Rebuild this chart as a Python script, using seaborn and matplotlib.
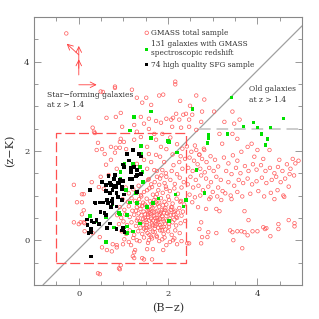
import matplotlib
matplotlib.use("Agg")
import matplotlib.pyplot as plt
import numpy as np
import seaborn as sns

# GMASS total sample, (B-z, z-K) pairs grouped by area of the diagram
red_upper = [(-0.28, 4.63), (0.49, 3.33), (0.54, 3.32), (0.81, 3.41), (1.19, 3.37), (1.30, 3.19),
             (1.42, 3.08), (1.51, 3.19), (1.62, 3.03), (1.80, 3.24), (1.89, 3.26), (0.00, 2.74),
             (0.62, 2.74), (0.31, 2.52), (0.36, 2.40), (0.94, 2.85), (0.83, 2.76), (1.39, 2.76),
             (1.57, 2.72), (1.73, 2.67), (1.84, 2.63), (1.96, 2.72), (1.46, 2.61), (1.24, 2.58),
             (0.97, 2.54), (1.57, 2.49), (1.30, 2.43), (0.34, 2.43), (1.69, 2.38), (1.87, 2.38),
             (2.16, 3.55), (2.16, 3.49), (2.27, 3.12), (2.63, 3.24), (2.81, 3.15), (2.49, 3.01),
             (2.11, 2.74), (2.34, 2.81), (2.18, 2.83), (2.40, 2.83), (2.54, 2.81), (2.76, 2.88),
             (3.03, 2.88), (2.07, 2.70), (2.25, 2.70), (2.47, 2.70), (2.74, 2.65), (3.26, 2.65),
             (3.44, 2.88), (3.48, 2.61), (3.60, 2.70), (2.09, 2.54), (2.29, 2.52), (2.47, 2.54),
             (2.63, 2.47), (0.81, 3.44)]
red_box = [(1.39, 2.31), (1.73, 2.25), (0.94, 2.27), (1.01, 2.20), (1.24, 2.25), (0.72, 2.09),
           (0.83, 2.07), (0.52, 2.04), (0.40, 2.02), (1.06, 2.04), (1.53, 2.09), (1.84, 2.09),
           (1.96, 2.04), (1.57, 1.93), (1.73, 1.91), (1.82, 1.87), (1.46, 1.80), (1.62, 1.75),
           (1.30, 1.71), (1.91, 1.75), (0.72, 1.80), (0.61, 1.69), (0.85, 1.60), (1.53, 1.60),
           (1.69, 1.57), (1.87, 1.57), (1.96, 1.42), (1.75, 1.42), (1.57, 1.37), (0.67, 1.46),
           (0.49, 1.42), (0.29, 1.30), (0.45, 1.19), (0.56, 1.15), (0.11, 1.03), (-0.11, 1.24),
           (1.64, 1.19), (1.80, 1.24), (1.96, 1.15), (1.53, 1.12), (1.39, 1.01), (1.75, 1.03),
           (0.43, 2.18), (0.58, 1.93), (0.81, 1.96), (0.92, 2.07), (0.92, 2.20), (2.05, 2.30),
           (2.20, 2.15), (2.32, 2.05), (2.10, 1.92), (2.28, 1.88), (-0.04, 0.85), (0.07, 1.03),
           (0.04, 0.40), (0.13, 0.38), (0.07, 0.58), (0.13, 0.20), (0.31, 0.16), (0.47, 0.07),
           (-0.11, 0.40), (0.07, 0.85), (0.11, 0.67), (0.00, 0.36), (0.11, 0.40), (0.76, -0.09),
           (0.52, -0.16), (0.63, -0.22), (0.99, -0.09), (0.85, -0.11), (1.17, -0.11), (1.30, 0.00),
           (1.57, 0.00), (1.75, 0.07), (1.87, 0.02), (1.96, -0.11), (1.66, -0.20), (1.89, -0.22),
           (1.24, -0.27), (1.26, -0.22), (1.53, -0.20), (0.74, -0.25), (0.85, -0.16)]
red_below = [(0.47, -0.76), (0.43, -0.74), (0.90, -0.63), (0.94, -0.56), (0.92, -0.65),
             (1.21, -0.36), (1.42, -0.40), (1.64, -0.43), (1.46, -0.43), (1.24, -0.40)]
red_cluster = [(1.05, 1.18), (1.12, 1.05), (1.22, 1.14), (1.34, 1.22), (1.46, 1.08), (1.58, 1.16),
               (1.66, 1.02), (1.78, 1.12), (1.88, 1.06), (1.95, 1.20), (2.04, 1.10), (2.14, 1.16),
               (2.22, 1.04), (2.30, 1.18), (1.40, 0.98), (1.72, 0.96), (2.00, 0.98),
               (0.98, 0.92), (1.10, 0.86), (1.18, 0.94), (1.26, 0.88), (1.35, 0.92), (1.44, 0.84),
               (1.52, 0.93), (1.60, 0.87), (1.69, 0.90), (1.76, 0.82), (1.84, 0.94), (1.92, 0.86),
               (2.02, 0.90), (2.10, 0.82), (2.19, 0.93), (2.27, 0.86), (2.36, 0.80), (1.48, 0.80),
               (1.63, 0.81), (1.96, 0.80),
               (0.92, 0.74), (1.02, 0.68), (1.12, 0.76), (1.20, 0.66), (1.30, 0.74), (1.38, 0.70),
               (1.45, 0.64), (1.52, 0.76), (1.58, 0.68), (1.65, 0.72), (1.72, 0.64), (1.80, 0.75),
               (1.86, 0.67), (1.94, 0.72), (2.01, 0.64), (2.09, 0.74), (2.16, 0.66), (2.25, 0.72),
               (2.33, 0.64), (1.56, 0.62), (1.70, 0.78), (1.90, 0.62), (1.42, 0.77),
               (0.86, 0.56), (0.95, 0.50), (1.04, 0.58), (1.14, 0.52), (1.24, 0.57), (1.32, 0.49),
               (1.40, 0.56), (1.48, 0.50), (1.55, 0.57), (1.62, 0.48), (1.68, 0.55), (1.75, 0.50),
               (1.82, 0.58), (1.88, 0.47), (1.96, 0.54), (2.04, 0.48), (2.12, 0.57), (2.20, 0.50),
               (2.30, 0.55), (1.60, 0.60), (1.78, 0.45), (1.50, 0.45),
               (0.90, 0.36), (1.00, 0.42), (1.08, 0.34), (1.18, 0.40), (1.28, 0.32), (1.36, 0.42),
               (1.44, 0.35), (1.52, 0.40), (1.58, 0.30), (1.64, 0.38), (1.71, 0.32), (1.78, 0.40),
               (1.85, 0.30), (1.93, 0.37), (2.02, 0.30), (2.10, 0.40), (2.18, 0.33), (2.28, 0.38),
               (1.66, 0.44), (1.50, 0.28),
               (0.96, 0.20), (1.06, 0.14), (1.14, 0.22), (1.24, 0.12), (1.33, 0.20), (1.42, 0.14),
               (1.50, 0.22), (1.58, 0.12), (1.66, 0.19), (1.74, 0.10), (1.82, 0.22), (1.90, 0.14),
               (2.00, 0.20), (2.08, 0.12), (2.16, 0.22), (2.26, 0.16), (1.46, 0.26), (1.70, 0.26),
               (1.02, 0.02), (1.12, -0.04), (1.22, 0.05), (1.36, -0.02), (1.46, 0.06), (1.55, -0.06),
               (1.64, 0.04), (1.80, -0.02), (1.92, 0.06), (2.04, -0.04), (2.14, 0.04), (2.30, -0.02),
               (1.70, 1.30), (1.82, 1.38), (1.92, 1.28), (2.05, 1.35), (2.15, 1.26), (2.26, 1.40),
               (2.35, 1.30), (1.95, 1.50), (2.08, 1.55), (2.20, 1.48), (2.32, 1.60), (2.12, 1.68),
               (2.25, 1.75), (2.38, 1.82), (1.85, 1.45), (1.62, 1.25), (1.55, 1.35), (1.75, 1.55)]
red_core = [(1.55, 0.52), (1.63, 0.58), (1.71, 0.50), (1.79, 0.56), (1.87, 0.53), (1.58, 0.44),
            (1.74, 0.42), (1.82, 0.48), (1.90, 0.42), (1.68, 0.62), (1.76, 0.66), (1.84, 0.62),
            (1.92, 0.68), (1.98, 0.60), (1.62, 0.70), (1.54, 0.66), (1.48, 0.58), (1.44, 0.48),
            (1.66, 0.34), (1.74, 0.36), (1.82, 0.34), (1.90, 0.30), (1.98, 0.44), (2.06, 0.56),
            (2.06, 0.68), (1.60, 0.26), (1.78, 0.28), (1.86, 0.22), (1.94, 0.24), (2.02, 0.36),
            (1.52, 0.34), (1.40, 0.40), (1.34, 0.60), (1.28, 0.66), (1.36, 0.78), (1.88, 0.78),
            (1.80, 0.84), (1.72, 0.86), (2.14, 0.46), (2.22, 0.62), (1.70, 0.18), (1.62, 0.08),
            (1.54, 0.16), (1.38, 0.28), (1.30, 0.44)]
red_right = [(2.42, 2.10), (2.52, 1.98), (2.60, 2.12), (2.70, 1.92), (2.80, 2.05), (2.48, 1.85),
             (2.58, 1.78), (2.66, 1.70), (2.76, 1.82), (2.86, 1.75), (2.95, 1.88), (3.05, 1.80),
             (2.45, 1.62), (2.55, 1.55), (2.72, 1.60), (2.82, 1.52), (2.92, 1.62), (3.02, 1.55),
             (3.12, 1.65), (2.50, 1.42), (2.62, 1.35), (2.74, 1.45), (2.85, 1.38), (2.96, 1.30),
             (3.08, 1.42), (3.18, 1.35), (2.44, 1.25), (2.56, 1.18), (2.68, 1.22), (2.78, 1.12),
             (2.90, 1.20), (3.00, 1.08), (3.12, 1.18), (3.22, 1.10), (2.48, 1.02), (2.60, 0.96),
             (2.72, 1.00), (2.95, 0.96), (3.10, 0.98),
             (3.25, 1.85), (3.35, 1.72), (3.45, 1.90), (3.55, 1.78), (3.30, 1.55), (3.42, 1.48),
             (3.52, 1.62), (3.62, 1.50), (3.72, 1.66), (3.80, 1.55), (3.90, 1.70), (3.98, 1.58),
             (4.08, 1.68), (4.18, 1.55), (4.28, 1.62), (4.38, 1.50), (4.46, 1.64), (4.56, 1.55),
             (4.66, 1.70), (4.74, 1.60), (4.85, 1.72), (4.92, 1.78), (3.35, 1.30), (3.48, 1.22),
             (3.58, 1.35), (3.68, 1.28), (3.78, 1.38), (3.88, 1.25), (3.98, 1.32), (4.10, 1.40),
             (4.20, 1.28), (4.32, 1.35), (4.42, 1.42), (4.52, 1.30), (4.62, 1.38), (4.72, 1.48),
             (4.82, 1.45), (3.28, 1.05), (3.40, 1.00), (3.55, 1.08), (3.66, 0.98), (3.84, 1.04),
             (4.02, 1.10), (4.15, 0.98), (4.30, 1.06), (4.45, 1.12), (4.58, 1.00), (4.70, 1.20),
             (3.15, 2.38), (3.44, 2.38), (3.55, 2.27), (3.21, 2.16), (3.87, 2.16), (3.78, 2.09),
             (3.64, 1.98), (4.00, 2.02), (4.27, 2.02), (3.93, 1.87), (4.13, 1.82), (4.49, 1.80),
             (4.79, 1.82), (2.81, 2.02), (2.63, 2.02), (2.70, 1.91),
             (3.71, 0.65), (3.80, 0.45), (2.74, 0.40), (2.70, 0.25), (2.90, 0.18), (3.08, 0.16),
             (2.88, 0.07), (2.76, 0.07), (2.74, -0.07), (3.39, 0.22), (3.44, 0.18), (3.55, 0.20),
             (3.64, 0.20), (3.71, 0.18), (3.78, 0.11), (3.89, 0.20), (3.46, 0.00), (3.66, -0.18),
             (4.00, 0.20), (4.13, 0.29), (4.17, 0.25), (4.20, 0.27), (4.29, 0.09), (4.47, 0.36),
             (4.47, 0.25), (4.70, 0.45), (4.83, 0.38), (4.83, 0.31), (2.47, -0.07), (2.43, -0.07),
             (2.11, 0.00), (2.20, -0.09), (2.38, 0.43), (2.18, 0.52), (2.13, 0.63), (2.07, 0.74),
             (2.29, 0.88), (2.54, 0.85), (2.67, 0.74), (2.85, 0.70), (3.08, 0.70), (3.15, 0.65),
             (3.42, 0.92), (4.38, 0.92), (2.92, 0.92), (3.19, 0.90), (4.60, 0.97)]

# 131 galaxies with GMASS spectroscopic redshift
green_pts = [(1.62, 2.88), (1.24, 2.76), (1.15, 2.45), (1.62, 2.29), (1.39, 2.11), (2.00, 2.22),
             (1.03, 1.71), (1.17, 1.60), (1.37, 1.64), (1.42, 1.53), (0.94, 1.37), (1.42, 1.30),
             (1.28, 1.06), (1.39, 1.93), (3.42, 3.19), (2.54, 2.94), (2.20, 1.96), (2.02, 2.20),
             (1.21, 1.71), (0.94, 1.53), (1.44, 1.30), (1.06, 1.12), (1.66, 0.83), (1.53, 0.74),
             (0.76, 0.81), (0.90, 0.61), (0.25, 0.54), (0.40, 0.43), (0.61, 0.52), (0.79, 0.29),
             (1.01, 0.29), (1.21, 0.20), (1.08, 0.16), (1.37, 0.38), (0.61, -0.04), (2.63, 1.57),
             (2.16, 1.03), (2.40, 0.90), (2.81, 1.06), (2.34, 0.76), (2.02, 0.43), (0.92, 0.58),
             (1.08, 0.56), (1.08, 0.31), (1.15, 0.85), (1.30, 0.83), (1.78, 0.94), (2.90, 2.36),
             (2.90, 2.29), (2.88, 2.18), (3.33, 2.38), (3.69, 2.54), (3.91, 2.63), (4.00, 2.52),
             (4.29, 2.52), (4.58, 2.72), (4.09, 2.38), (4.22, 2.27), (4.18, 2.13)]

# 74 high quality SFG sample
black_pts = [(0.67, 1.44), (0.81, 1.46), (0.92, 1.35), (0.99, 1.33), (1.01, 1.64), (1.17, 1.62),
             (1.30, 1.46), (1.15, 1.37), (0.52, 1.30), (0.61, 1.24), (0.70, 1.28), (0.79, 1.21),
             (0.88, 1.28), (0.97, 1.19), (0.76, 1.12), (0.85, 1.06), (0.70, 1.06), (0.61, 1.10),
             (0.88, 0.97), (0.76, 0.94), (0.25, 1.12), (0.38, 0.83), (0.47, 0.85), (0.54, 0.85),
             (0.65, 0.83), (0.76, 0.83), (0.85, 0.76), (0.49, 0.63), (0.58, 0.61), (0.18, 0.47),
             (0.29, 0.43), (0.40, 0.45), (0.45, 0.38), (0.34, 0.40), (0.20, 0.34), (0.27, 0.18),
             (0.22, 0.16), (0.63, 0.27), (0.70, 0.38), (0.99, 0.27), (1.03, 0.18), (0.27, -0.36),
             (1.21, 2.02), (1.35, 1.93), (1.39, 1.87), (1.08, 1.93), (0.99, 1.69), (1.24, 1.64),
             (1.17, 1.53), (1.30, 1.57), (1.39, 1.48), (1.28, 1.42), (0.79, 1.37), (0.90, 1.28),
             (0.72, 1.24), (0.83, 1.19), (0.97, 1.15), (1.19, 1.37), (1.19, 1.19), (1.30, 1.08),
             (1.01, 1.03), (0.63, 0.90), (0.74, 0.88), (0.97, 0.90), (0.72, 0.74), (0.61, 0.56),
             (0.45, 0.36), (0.27, 0.25), (0.85, 0.25), (0.97, 0.22), (0.36, 0.85), (1.12, 1.78)]

red_all = np.array(red_upper + red_box + red_below + red_cluster + red_core + red_right)
green_all = np.array(green_pts)
black_all = np.array(black_pts)

sns.set_style("ticks")
plt.rcParams["font.family"] = ["DejaVu Serif"]

fig = plt.figure(figsize=(3.19, 3.19), dpi=100)
ax = fig.add_axes([0.107, 0.107, 0.84, 0.84])

# selection lines
xs = np.array([-0.8, 5.0])
ax.plot(xs, xs - 0.2, color="#a0a0a0", lw=0.9, zorder=1)
ax.plot([2.7, 5.0], [2.5, 2.5], color="#cccccc", lw=1.4, ls=(0, (6, 3)), zorder=1)
ax.plot([-0.5, 2.4, 2.4, -0.5, -0.5], [-0.5, -0.5, 2.4, 2.4, -0.5],
        color="#ff5050", lw=0.9, ls=(0, (8, 3)), zorder=1)

sns.scatterplot(x=red_all[:, 0], y=red_all[:, 1], ax=ax, marker="o", s=6.5,
                facecolors="none", edgecolor="#ff5a5a", linewidth=0.5,
                label="GMASS total sample", zorder=2)
sns.scatterplot(x=green_all[:, 0], y=green_all[:, 1], ax=ax, marker="s", s=6,
                color="#00e000", edgecolor="none",
                label="131 galaxies with GMASS\nspectroscopic redshift", zorder=3)
sns.scatterplot(x=black_all[:, 0], y=black_all[:, 1], ax=ax, marker="s", s=6,
                color="black", edgecolor="none",
                label="74 high quality SFG sample", zorder=4)

# reddening vectors
arr = dict(arrowstyle="->", color="#ff4040", lw=0.6, shrinkA=0, shrinkB=0)
ax.annotate("", xy=(0.0, 4.35), xytext=(0.0, 3.7), arrowprops=arr)
ax.annotate("", xy=(0.0, 4.05), xytext=(0.0, 3.85), arrowprops=arr)
ax.annotate("", xy=(-0.27, 4.40), xytext=(0.0, 4.15), arrowprops=arr)
ax.annotate("", xy=(0.40, 3.48), xytext=(0.0, 3.48), arrowprops=arr)

ax.text(-0.72, 3.35, "Star\u2212forming galaxies\nat z > 1.4", fontsize=5.5,
        va="top", ha="left", color="#333333", linespacing=1.4)
ax.text(3.82, 3.47, "Old galaxies\nat z > 1.4", fontsize=5.5,
        va="top", ha="left", color="#333333", linespacing=1.4)

ax.set_xlim(-1, 5)
ax.set_ylim(-1, 5)
ax.set_xticks([0, 2, 4])
ax.set_yticks([0, 2, 4])
ax.set_xticks(np.arange(-1, 5.01, 0.5), minor=True)
ax.set_yticks(np.arange(-1, 5.01, 0.5), minor=True)
ax.tick_params(which="both", direction="in", top=True, right=True, colors="#888888",
               labelcolor="#333333", labelsize=6, width=0.6)
ax.tick_params(which="major", length=5)
ax.tick_params(which="minor", length=3)
for sp in ax.spines.values():
    sp.set_color("#888888")
    sp.set_linewidth(0.8)

ax.set_xlabel("(B\u2212z)", fontsize=8, color="#333333", labelpad=4)
ax.set_ylabel("(z\u2212K)", fontsize=8, color="#333333", labelpad=6)

leg = ax.legend(loc="upper left", bbox_to_anchor=(0.39, 0.975), frameon=False,
                fontsize=5.3, handletextpad=0.2, handlelength=0.8, borderpad=0.2,
                labelspacing=0.45, markerscale=1.0)
for t in leg.get_texts():
    t.set_color("#333333")

fig.savefig("out.png", dpi=100)
